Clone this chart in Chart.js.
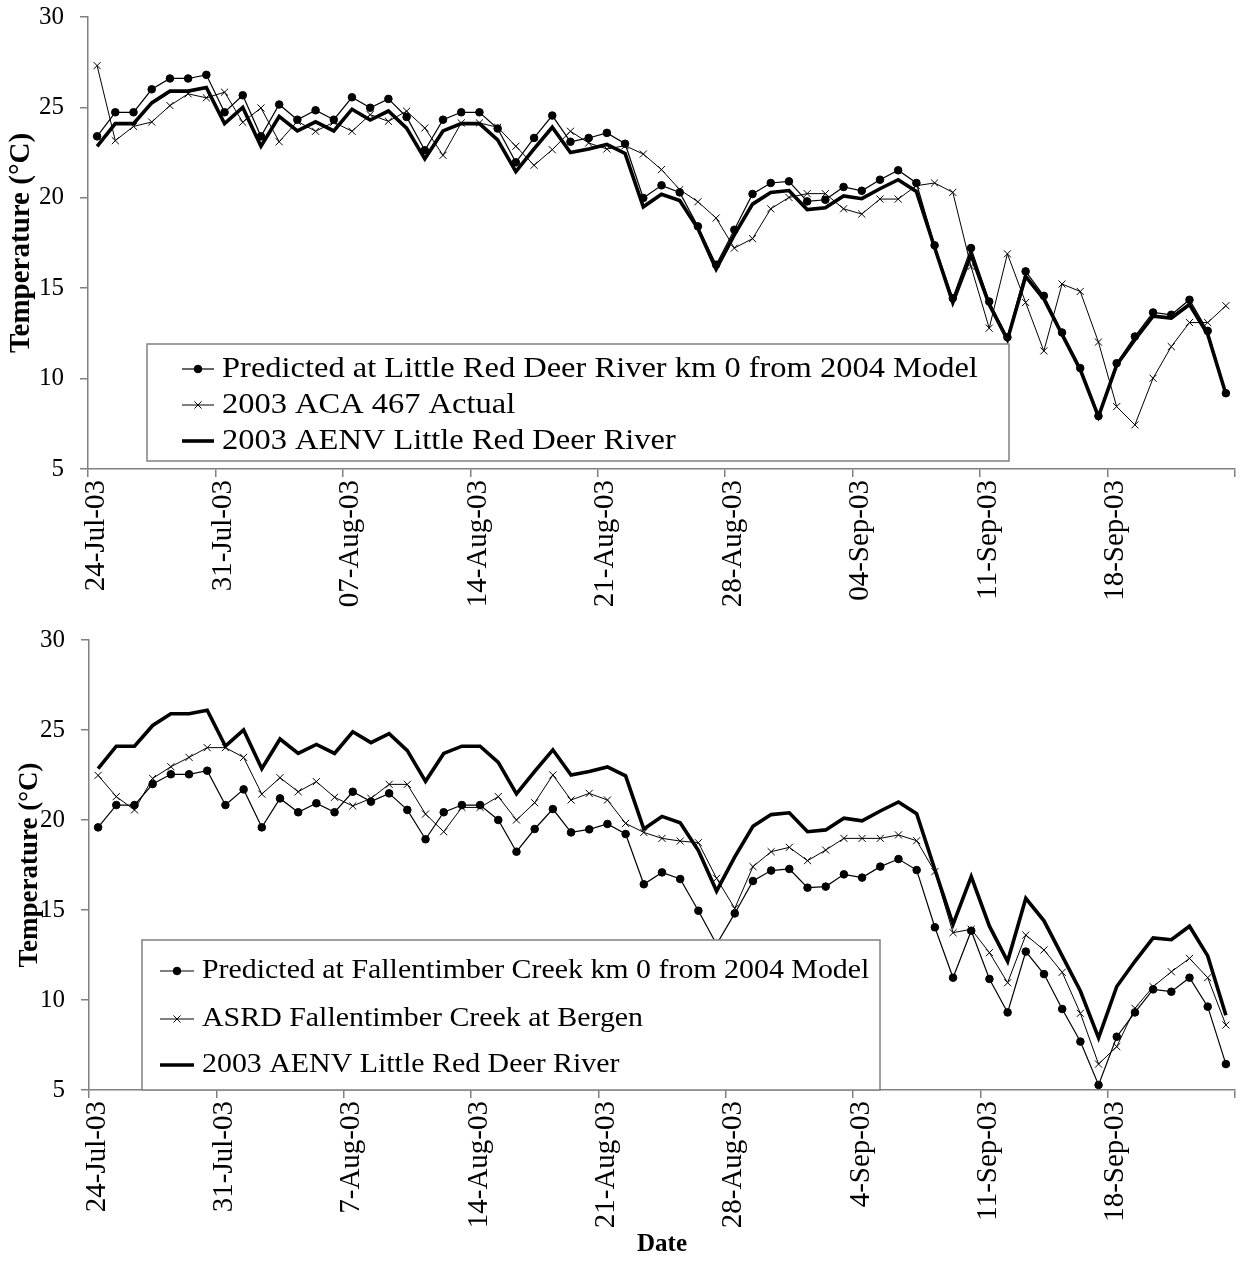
<!DOCTYPE html>
<html>
<head>
<meta charset="utf-8">
<title>Stream temperatures, July–September 2003</title>
<script src="https://cdn.jsdelivr.net/npm/chart.js@4.4.1/dist/chart.umd.min.js"></script>
<style>
  html, body { margin: 0; padding: 0; background: #ffffff; }
  #page { position: relative; width: 1241px; height: 1263px; }
  canvas { display: block; }
</style>
</head>
<body>
<div id="page">
  <canvas id="upper" width="1241" height="620"></canvas>
  <canvas id="lower" width="1241" height="643"></canvas>
</div>
<script>
// Daily records, 24 July to 24 September 2003 (one value per day)
const days = [
  '24-Jul','25-Jul','26-Jul','27-Jul','28-Jul','29-Jul','30-Jul','31-Jul',
  '1-Aug','2-Aug','3-Aug','4-Aug','5-Aug','6-Aug','7-Aug','8-Aug','9-Aug','10-Aug',
  '11-Aug','12-Aug','13-Aug','14-Aug','15-Aug','16-Aug','17-Aug','18-Aug','19-Aug','20-Aug',
  '21-Aug','22-Aug','23-Aug','24-Aug','25-Aug','26-Aug','27-Aug','28-Aug','29-Aug','30-Aug','31-Aug',
  '1-Sep','2-Sep','3-Sep','4-Sep','5-Sep','6-Sep','7-Sep','8-Sep','9-Sep','10-Sep',
  '11-Sep','12-Sep','13-Sep','14-Sep','15-Sep','16-Sep','17-Sep','18-Sep','19-Sep','20-Sep',
  '21-Sep','22-Sep','23-Sep','24-Sep'
];

// Weekly date ticks (day offsets from 24 July) and their labels
const weekTickDays = [0, 7, 14, 21, 28, 35, 42, 49, 56, 63];
const upperTickLabels = ['24-Jul-03','31-Jul-03','07-Aug-03','14-Aug-03','21-Aug-03','28-Aug-03','04-Sep-03','11-Sep-03','18-Sep-03',''];
const lowerTickLabels = ['24-Jul-03','31-Jul-03','7-Aug-03','14-Aug-03','21-Aug-03','28-Aug-03','4-Sep-03','11-Sep-03','18-Sep-03',''];

// 2003 AENV Little Red Deer River (shown in both panels), °C
const aenvLittleRedDeer = [
  22.85, 24.1, 24.1, 25.25, 25.9, 25.9, 26.1, 24.1, 25.0, 22.85,
  24.5, 23.7, 24.2, 23.7, 24.9, 24.3, 24.8, 23.85, 22.15, 23.7,
  24.1, 24.1, 23.2, 21.45, 22.7, 23.9, 22.5, 22.7, 22.95, 22.45,
  19.5, 20.2, 19.85, 18.3, 16.05, 17.95, 19.65, 20.3, 20.4, 19.35,
  19.45, 20.1, 19.95, 20.5, 21.0, 20.35, 17.25, 14.2, 16.85, 14.1,
  12.15, 15.65, 14.4, 12.45, 10.5, 7.9, 10.75, 12.15, 13.45, 13.35,
  14.1, 12.45, 9.15
];

// Predicted at Little Red Deer River km 0 from 2004 Model, °C
const predictedLittleRedDeer = [
  23.4, 24.73, 24.73, 26.0, 26.6, 26.6, 26.8, 24.73, 25.67, 23.4,
  25.16, 24.32, 24.84, 24.32, 25.56, 24.98, 25.47, 24.47, 22.63, 24.32,
  24.73, 24.73, 23.83, 21.96, 23.31, 24.55, 23.1, 23.31, 23.59, 22.99,
  19.99, 20.69, 20.3, 18.42, 16.3, 18.23, 20.21, 20.82, 20.91, 19.8,
  19.89, 20.6, 20.39, 21.0, 21.52, 20.82, 17.37, 14.45, 17.22, 14.26,
  12.29, 15.93, 14.58, 12.55, 10.58, 7.93, 10.85, 12.33, 13.66, 13.53,
  14.36, 12.64, 9.19
];

// 2003 ACA 467 Actual, °C
const aca467Actual = [
  27.31, 23.16, 23.95, 24.19, 25.1, 25.75, 25.53, 25.84, 24.18, 24.97,
  23.1, 24.23, 23.68, 24.18, 23.68, 24.6, 24.23, 24.79, 23.86, 22.35,
  24.14, 24.14, 23.9, 22.85, 21.8, 22.66, 23.68, 23.03, 22.7, 22.88,
  22.42, 21.56, 20.45, 19.78, 18.88, 17.22, 17.74, 19.39, 20.02, 20.23,
  20.23, 19.39, 19.1, 19.93, 19.93, 20.67, 20.82, 20.3, 16.2, 12.79,
  16.9, 14.21, 11.53, 15.23, 14.82, 12.02, 8.45, 7.44, 10.02, 11.77,
  13.1, 13.1, 14.03
];

// Predicted at Fallentimber Creek km 0 from 2004 Model, °C
const predictedFallentimber = [
  19.59, 20.83, 20.83, 22.0, 22.54, 22.54, 22.74, 20.83, 21.7, 19.59,
  21.2, 20.43, 20.93, 20.43, 21.57, 21.02, 21.48, 20.56, 18.93, 20.43,
  20.83, 20.83, 20.0, 18.24, 19.5, 20.61, 19.31, 19.48, 19.78, 19.22,
  16.43, 17.09, 16.72, 14.96, 13.1, 14.81, 16.61, 17.19, 17.28, 16.24,
  16.3, 16.98, 16.8, 17.41, 17.83, 17.22, 14.04, 11.24, 13.85, 11.17,
  9.31, 12.69, 11.44, 9.5, 7.69, 5.28, 7.96, 9.31, 10.59, 10.46,
  11.24, 9.63, 6.44
];

// ASRD Fallentimber Creek at Bergen, °C
const asrdFallentimberBergen = [
  22.48, 21.3, 20.56, 22.31, 22.96, 23.48, 24.02, 24.02, 23.48, 21.44,
  22.35, 21.57, 22.13, 21.26, 20.78, 21.2, 21.98, 21.98, 20.33, 19.35,
  20.7, 20.7, 21.3, 20.0, 20.96, 22.5, 21.11, 21.48, 21.11, 19.81,
  19.31, 18.98, 18.83, 18.74, 16.76, 15.09, 17.41, 18.24, 18.48, 17.74,
  18.33, 18.98, 18.98, 18.98, 19.17, 18.85, 17.13, 13.74, 13.93, 12.63,
  10.96, 13.61, 12.78, 11.54, 9.26, 6.44, 7.41, 9.54, 10.74, 11.57,
  12.31, 11.24, 8.61
];

const AXIS_GREY = '#808080';
const SERIF = "'Liberation Serif', 'Times New Roman', serif";

// Each daily value sits in the middle of its day on the date axis
function dailyPoints(values) {
  return values.map((v, i) => ({ x: i + 0.5, y: v }));
}

function series(label, values, kind) {
  const base = {
    label: label,
    data: dailyPoints(values),
    borderColor: '#000000',
    backgroundColor: '#000000',
    pointBackgroundColor: '#000000',
    pointBorderColor: '#000000',
    tension: 0,
    fill: false
  };
  if (kind === 'dot') {
    return Object.assign(base, { borderWidth: 1.2, pointStyle: 'circle', pointRadius: 3.8, pointBorderWidth: 1 });
  }
  if (kind === 'cross') {
    return Object.assign(base, { borderWidth: 1, pointStyle: 'crossRot', pointRadius: 5, pointBorderWidth: 1 });
  }
  return Object.assign(base, { borderWidth: 3.6, pointRadius: 0 });
}

// Boxed legend drawn inside the plot area, over the lines
const boxedLegend = {
  id: 'boxedLegend',
  afterDatasetsDraw(chart, _args, o) {
    const ctx = chart.ctx;
    ctx.save();
    ctx.fillStyle = '#ffffff';
    ctx.fillRect(o.left, o.top, o.width, o.height);
    ctx.lineWidth = 1.5;
    ctx.strokeStyle = AXIS_GREY;
    ctx.strokeRect(o.left, o.top, o.width, o.height);
    ctx.font = o.fontSize + 'px ' + SERIF;
    ctx.textBaseline = 'middle';
    ctx.textAlign = 'left';
    chart.data.datasets.forEach((ds, i) => {
      const y = o.rows[i];
      ctx.strokeStyle = ds.borderColor;
      ctx.lineWidth = ds.borderWidth;
      ctx.beginPath();
      ctx.moveTo(o.swatchFrom, y);
      ctx.lineTo(o.swatchTo, y);
      ctx.stroke();
      if (ds.pointRadius > 0) {
        ctx.lineWidth = 1;
        ctx.fillStyle = ds.pointBackgroundColor;
        Chart.helpers.drawPoint(ctx, {
          pointStyle: ds.pointStyle, radius: ds.pointRadius, rotation: 0, borderWidth: 1
        }, (o.swatchFrom + o.swatchTo) / 2, y);
      }
      ctx.fillStyle = '#000000';
      ctx.save();
      ctx.translate(o.textX, y);
      ctx.scale(o.stretch, 1);
      ctx.fillText(ds.label, 0, 0);
      ctx.restore();
    });
    ctx.restore();
  }
};

function panel(canvasId, datasets, p) {
  return new Chart(document.getElementById(canvasId), {
    type: 'line',
    data: { datasets: datasets },
    plugins: [boxedLegend],
    options: {
      responsive: false,
      animation: false,
      devicePixelRatio: 1,
      events: [],
      layout: { padding: { top: p.padTop, right: p.padRight, bottom: 0, left: 0 } },
      plugins: {
        legend: { display: false },
        tooltip: { enabled: false },
        boxedLegend: p.legend
      },
      scales: {
        x: {
          type: 'linear',
          min: 0,
          max: days.length,
          afterBuildTicks: (s) => { s.ticks = weekTickDays.map((v) => ({ value: v })); },
          afterFit: (s) => { s.height = p.xAxisHeight; s.paddingLeft = 0; s.paddingRight = 0; },
          ticks: {
            autoSkip: false,
            minRotation: 90,
            maxRotation: 90,
            padding: 3,
            labelOffset: 8,
            color: '#000000',
            font: { family: SERIF, size: 29 },
            callback: (_v, i) => p.tickLabels[i]
          },
          grid: { drawOnChartArea: false, drawTicks: true, tickLength: 8, color: AXIS_GREY, lineWidth: 1.5 },
          border: { color: AXIS_GREY, width: 1.5 },
          title: p.xTitle
        },
        y: {
          min: 5,
          max: 30,
          afterFit: (s) => { s.width = p.yAxisWidth; s.paddingTop = 0; s.paddingBottom = 0; },
          ticks: {
            stepSize: 5,
            padding: 16,
            color: '#000000',
            font: { family: SERIF, size: 25 }
          },
          grid: { drawOnChartArea: false, drawTicks: true, tickLength: 8, color: AXIS_GREY, lineWidth: 1.5 },
          border: { color: AXIS_GREY, width: 1.5 },
          title: {
            display: true,
            text: 'Temperature (°C)',
            color: '#000000',
            font: { family: SERIF, size: p.yTitleSize, weight: 'bold' },
            padding: { top: p.yTitlePad, bottom: 0 }
          }
        }
      }
    }
  });
}

// Upper panel: Little Red Deer River
panel('upper', [
  series('Predicted at Little Red Deer River km 0 from 2004 Model', predictedLittleRedDeer, 'dot'),
  series('2003 ACA 467 Actual', aca467Actual, 'cross'),
  series('2003 AENV Little Red Deer River', aenvLittleRedDeer, 'bold')
], {
  padTop: 17, padRight: 4, xAxisHeight: 151, yAxisWidth: 88,
  yTitleSize: 29, yTitlePad: 4,
  tickLabels: upperTickLabels,
  xTitle: { display: false },
  legend: {
    left: 147, top: 344, width: 862, height: 117,
    rows: [369, 405, 441], swatchFrom: 182, swatchTo: 214, textX: 222,
    fontSize: 29, stretch: 1.12
  }
});

// Lower panel: Fallentimber Creek
panel('lower', [
  series('Predicted at Fallentimber Creek km 0 from 2004 Model', predictedFallentimber, 'dot'),
  series('ASRD Fallentimber Creek at Bergen', asrdFallentimberBergen, 'cross'),
  series('2003 AENV Little Red Deer River', aenvLittleRedDeer, 'bold')
], {
  padTop: 20, padRight: 0, xAxisHeight: 173, yAxisWidth: 89,
  yTitleSize: 27, yTitlePad: 14,
  tickLabels: lowerTickLabels,
  xTitle: {
    display: true, text: 'Date', color: '#000000',
    font: { family: SERIF, size: 25, weight: 'bold' },
    padding: { top: 0, bottom: 3 }
  },
  legend: {
    left: 142, top: 320, width: 738, height: 150,
    rows: [351, 399, 445], swatchFrom: 160, swatchTo: 194, textX: 202,
    fontSize: 27, stretch: 1.107
  }
});
</script>
</body>
</html>
